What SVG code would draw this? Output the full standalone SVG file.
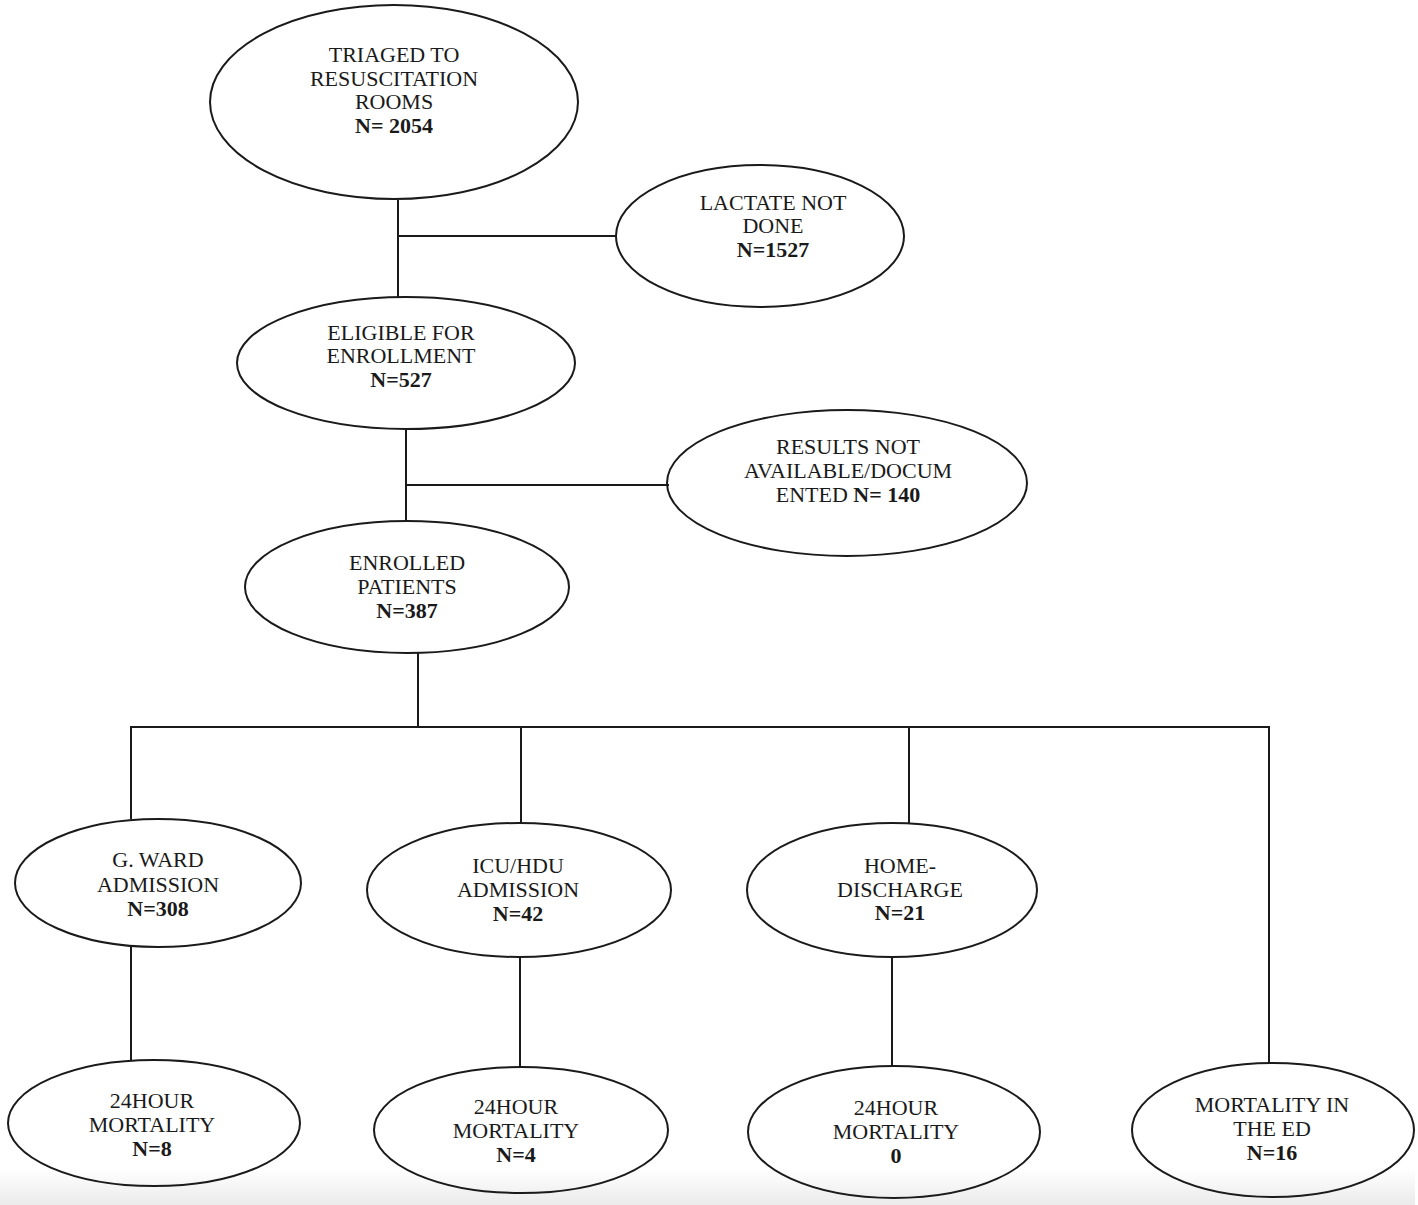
<svg xmlns="http://www.w3.org/2000/svg" width="1418" height="1205" viewBox="0 0 1418 1205">
<defs>
<linearGradient id="bg" x1="0" y1="0" x2="0" y2="1">
<stop offset="0" stop-color="#ffffff"/>
<stop offset="1" stop-color="#ebebeb"/>
</linearGradient>
<style>
.n ellipse{fill:none;stroke:#1a1a1a;stroke-width:2}
.n text{font-family:"Liberation Serif","Times New Roman",serif;font-size:22px;fill:#1a1a1a;text-anchor:middle}
.b{font-weight:bold}
#connectors line{stroke:#1a1a1a;stroke-width:2}
</style>
</defs>
<rect x="0" y="0" width="1418" height="1205" fill="#ffffff"/>
<rect x="0" y="1168" width="1418" height="37" fill="url(#bg)"/>
<rect x="1415" y="1168" width="3" height="37" fill="#ffffff"/>
<g id="connectors">
<line x1="398" y1="200" x2="398" y2="297"/>
<line x1="397" y1="236" x2="617" y2="236"/>
<line x1="406" y1="429" x2="406" y2="521"/>
<line x1="405" y1="485" x2="669" y2="485"/>
<line x1="418" y1="653" x2="418" y2="727"/>
<line x1="130" y1="727" x2="1270" y2="727"/>
<line x1="131" y1="726" x2="131" y2="819"/>
<line x1="521" y1="727" x2="521" y2="824"/>
<line x1="909" y1="727" x2="909" y2="824"/>
<line x1="1269" y1="726" x2="1269" y2="1064"/>
<line x1="131" y1="946" x2="131" y2="1061"/>
<line x1="520" y1="956" x2="520" y2="1068"/>
<line x1="892" y1="956" x2="892" y2="1066"/>
</g>
<g id="triaged" class="n">
<ellipse cx="394" cy="102" rx="184" ry="97"/>
<text x="394" y="62">TRIAGED TO</text>
<text x="394" y="86">RESUSCITATION</text>
<text x="394" y="109">ROOMS</text>
<text x="394" y="133" class="b">N= 2054</text>
</g>
<g id="lactate" class="n">
<ellipse cx="760" cy="236" rx="144" ry="71"/>
<text x="773" y="210">LACTATE NOT</text>
<text x="773" y="233">DONE</text>
<text x="773" y="257" class="b">N=1527</text>
</g>
<g id="eligible" class="n">
<ellipse cx="406" cy="363" rx="169" ry="66"/>
<text x="401" y="340">ELIGIBLE FOR</text>
<text x="401" y="363">ENROLLMENT</text>
<text x="401" y="387" class="b">N=527</text>
</g>
<g id="results" class="n">
<ellipse cx="847" cy="483" rx="180" ry="73"/>
<text x="848" y="454">RESULTS NOT</text>
<text x="848" y="478">AVAILABLE/DOCUM</text>
<text x="848" y="502">ENTED <tspan class="b">N= 140</tspan></text>
</g>
<g id="enrolled" class="n">
<ellipse cx="407" cy="587" rx="162" ry="66"/>
<text x="407" y="570">ENROLLED</text>
<text x="407" y="594">PATIENTS</text>
<text x="407" y="618" class="b">N=387</text>
</g>
<g id="gward" class="n">
<ellipse cx="158" cy="883" rx="143" ry="64"/>
<text x="158" y="867">G. WARD</text>
<text x="158" y="892">ADMISSION</text>
<text x="158" y="916" class="b">N=308</text>
</g>
<g id="icu" class="n">
<ellipse cx="519" cy="890" rx="152" ry="67"/>
<text x="518" y="873">ICU/HDU</text>
<text x="518" y="897">ADMISSION</text>
<text x="518" y="921" class="b">N=42</text>
</g>
<g id="home" class="n">
<ellipse cx="892" cy="890" rx="145" ry="67"/>
<text x="900" y="873">HOME-</text>
<text x="900" y="897">DISCHARGE</text>
<text x="900" y="920" class="b">N=21</text>
</g>
<g id="mort-gward" class="n">
<ellipse cx="154" cy="1123" rx="146" ry="63"/>
<text x="152" y="1108">24HOUR</text>
<text x="152" y="1132">MORTALITY</text>
<text x="152" y="1156" class="b">N=8</text>
</g>
<g id="mort-icu" class="n">
<ellipse cx="521" cy="1130" rx="147" ry="63"/>
<text x="516" y="1114">24HOUR</text>
<text x="516" y="1138">MORTALITY</text>
<text x="516" y="1162" class="b">N=4</text>
</g>
<g id="mort-home" class="n">
<ellipse cx="894" cy="1132" rx="146" ry="66"/>
<text x="896" y="1115">24HOUR</text>
<text x="896" y="1139">MORTALITY</text>
<text x="896" y="1163" class="b">0</text>
</g>
<g id="mort-ed" class="n">
<ellipse cx="1273" cy="1130" rx="141" ry="67"/>
<text x="1272" y="1112">MORTALITY IN</text>
<text x="1272" y="1136">THE ED</text>
<text x="1272" y="1160" class="b">N=16</text>
</g>
</svg>
